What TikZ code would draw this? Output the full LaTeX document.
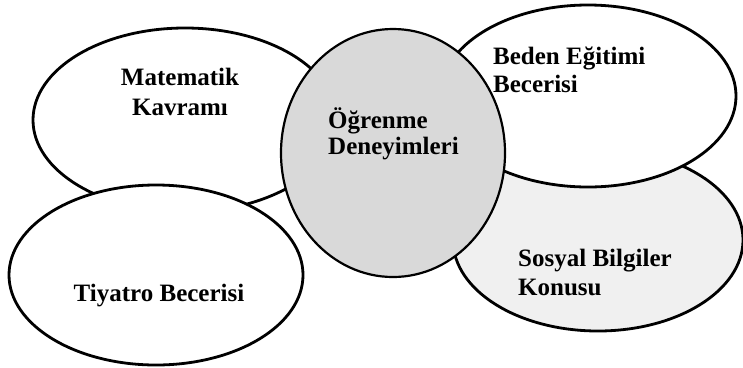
\documentclass[tikz,border=0pt]{standalone}
\usepackage{fontspec}
\setmainfont{Liberation Serif}
\usetikzlibrary{shapes.geometric}
\begin{document}
\begin{tikzpicture}[x=1bp,y=-1bp,
  blob/.style={ellipse, draw=black, line width=2.8bp, fill=white, inner sep=0pt},
  lbl/.style={inner sep=0pt, font=\fontsize{25bp}{30bp}\selectfont\bfseries},
]
\useasboundingbox (0,0) rectangle (743,367);
\node[blob, minimum width=304bp, minimum height=184bp] (mat) at (185,120) {};
\node[blob, minimum width=294bp, minimum height=180bp] (tiy) at (156,275) {};
\node[blob, fill=black!6, minimum width=290bp, minimum height=182bp] (sos) at (598,240) {};
\node[blob, minimum width=296bp, minimum height=182bp] (bed) at (588,96) {};
\node[blob, fill=black!15, line width=2.2bp, minimum width=224bp, minimum height=248bp] (ogr) at (393,153) {};
\node[lbl, align=center, anchor=base] (tmat) at (180,115) {Matematik\\Kavramı};
\node[lbl, anchor=base] (ttiy) at (159,301) {Tiyatro Becerisi};
\node[lbl, align=left, anchor=base west, font=\fontsize{25bp}{26bp}\selectfont\bfseries] (togr) at (328,154) {Öğrenme\\Deneyimleri};
\node[lbl, align=left, anchor=base west, font=\fontsize{25bp}{27.5bp}\selectfont\bfseries] (tbed) at (493,92) {Beden Eğitimi\\Becerisi};
\node[lbl, align=left, anchor=base west, font=\fontsize{25bp}{29bp}\selectfont\bfseries] (tsos) at (518,295) {Sosyal Bilgiler\\Konusu};
\end{tikzpicture}
\end{document}
